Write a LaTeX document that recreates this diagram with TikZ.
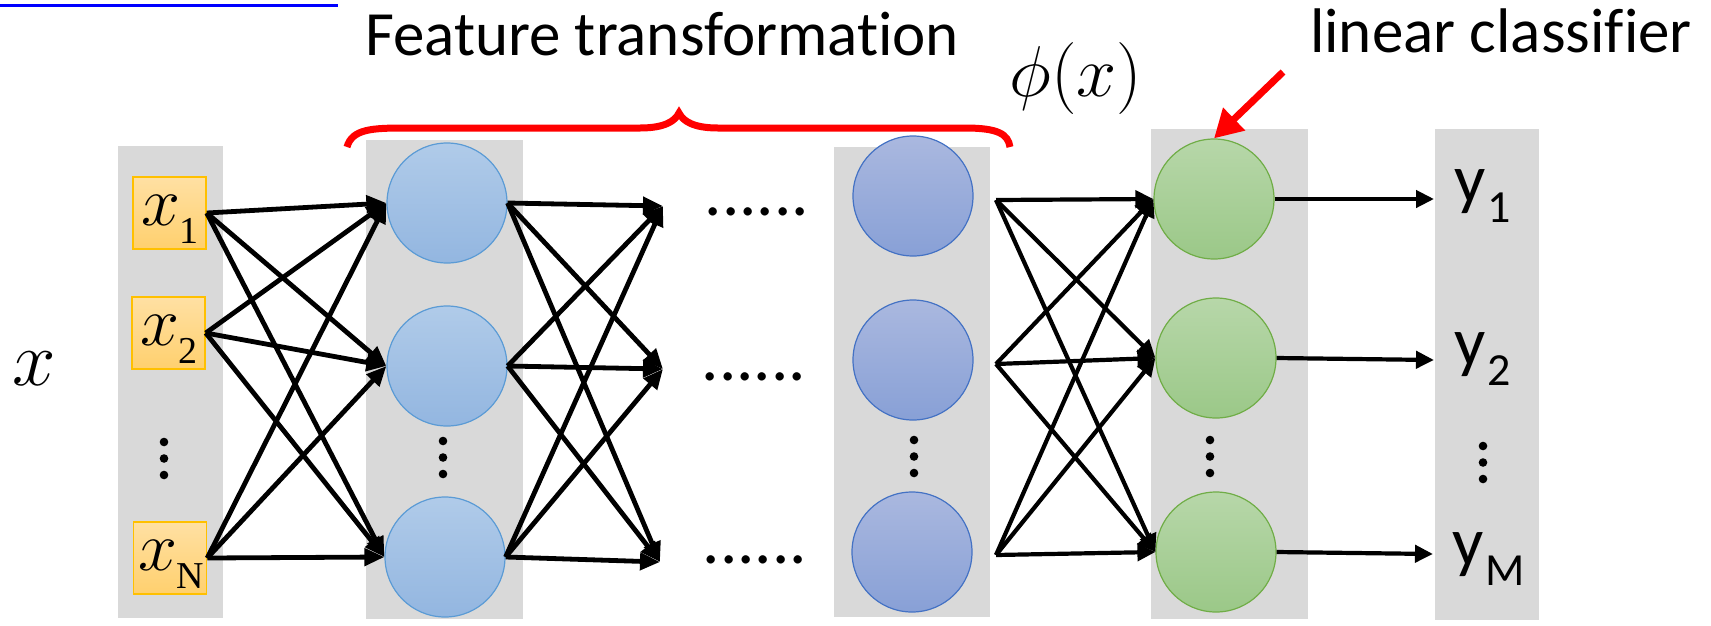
\documentclass[tikz,border=0pt]{standalone}
\usepackage{fix-cm}
\usepackage{fontspec}
\newfontfamily\calfont[Ligatures=NoCommon]{Carlito}
\newfontfamily\tmsfont{Liberation Serif}
\usetikzlibrary{arrows.meta,calc}
\definecolor{gry}{HTML}{D9D9D9}
\definecolor{hat}{HTML}{B0CBE9}
\definecolor{hab}{HTML}{93B6E0}
\definecolor{had}{HTML}{5B9BD5}
\definecolor{hbt}{HTML}{AAB8DF}
\definecolor{hbb}{HTML}{88A0D6}
\definecolor{hbd}{HTML}{4472C4}
\definecolor{grt}{HTML}{B7D7A9}
\definecolor{grb}{HTML}{9BC888}
\definecolor{grd}{HTML}{70AD47}
\definecolor{bxt}{HTML}{FFE0A3}
\definecolor{bxb}{HTML}{FFD06E}
\definecolor{bxd}{HTML}{FFC000}
\definecolor{lnk}{HTML}{0000FF}
\newcommand\xlab[1]{{\fontsize{70}{70}\selectfont$x$}\kern-1pt\raisebox{-18pt}{\tmsfont\fontsize{38}{38}\selectfont #1}}
\newcommand\ylab[1]{{\calfont\fontsize{69}{69}\selectfont y\kern2pt\raisebox{-20pt}{\fontsize{46}{46}\selectfont #1}}}
\begin{document}
\begin{tikzpicture}[x=1pt,y=-1pt,
  col/.style={fill=gry},
  inbox/.style={rectangle, minimum width=73pt, minimum height=72pt, inner sep=0pt, line width=1.5pt, draw=bxd, top color=bxt, bottom color=bxb},
  hla/.style={circle, minimum size=120pt, inner sep=0pt, line width=1.2pt, draw=had, top color=hat, bottom color=hab},
  hlb/.style={circle, minimum size=120pt, inner sep=0pt, line width=1.2pt, draw=hbd, top color=hbt, bottom color=hbb},
  grn/.style={circle, minimum size=120pt, inner sep=0pt, line width=1.2pt, draw=grd, top color=grt, bottom color=grb},
  conn/.style={line width=4.8pt, -{Triangle[length=20pt,width=17pt]}},
  connb/.style={line width=4.2pt, -{Triangle[length=18pt,width=17pt]}},
  vdot/.style={fill=black},
  dotrow/.style={anchor=base, inner sep=0pt, font=\calfont\fontsize{69}{69}\selectfont},
]
\useasboundingbox (0,0) rectangle (1711,625);

% hyperlink underline
\draw[lnk, line width=3pt] (0,5) -- (338,5);

% gray columns
\path[col] (118,146) rectangle (223,618);
\path[col] (366,140) rectangle (523,619);
\path[col] (834,147) rectangle (990,617);
\path[col] (1151,129) rectangle (1308,619);
\path[col] (1435,129) rectangle (1539,620);

% input boxes
\node[inbox] (x1) at (169.5,213) {};
\node[inbox] (x2) at (168.5,333) {};
\node[inbox] (xN) at (170,558) {};
\node[anchor=base, inner sep=0pt] (x1t) at (170,225) {\xlab{1}};
\node[anchor=base, inner sep=0pt] (x2t) at (169,345) {\xlab{2}};
\node[anchor=base, inner sep=0pt] (xNt) at (171,570) {\xlab{N}};

% first hidden layer
\node[hla] (h1) at (447,203) {};
\node[hla] (h2) at (447,366) {};
\node[hla] (h3) at (445,557) {};

% last hidden layer
\node[hlb] (k1) at (913,196) {};
\node[hlb] (k2) at (913,360) {};
\node[hlb] (k3) at (912,552) {};

% linear classifier
\node[grn] (g1) at (1214,199) {};
\node[grn] (g2) at (1216,358) {};
\node[grn] (g3) at (1216,552) {};

% output labels
\node[anchor=base west, inner sep=0pt] (y1) at (1454,202) {\ylab{1}};
\node[anchor=base west, inner sep=0pt] (y2) at (1454,365) {\ylab{2}};
\node[anchor=base west, inner sep=0pt] (yM) at (1452,565) {\ylab{M}};

% vertical dots
\foreach \cx/\cy in {164/442,443/441,914/440,1210/440,1483/446}{
  \fill[vdot] (\cx,\cy) circle (4.3pt) (\cx,\cy+16.5) circle (4.3pt) (\cx,\cy+33) circle (4.3pt);
}

% horizontal dots
\node[dotrow] (d1) at (757,215) {......};
\node[dotrow] (d2) at (754,380) {......};
\node[dotrow] (d3) at (755,563) {......};

% free connector ends
\coordinate (t1) at (663,206);
\coordinate (t2) at (663,369);
\coordinate (t3) at (660,562);
\coordinate (s1) at (996,200);
\coordinate (s2) at (996,364);
\coordinate (s3) at (996,555);
\coordinate (o1) at (1434,199);
\coordinate (o2) at (1434,360);
\coordinate (o3) at (1433,554);

% connectors
\foreach \s in {x1,x2,xN}{\foreach \t in {h1,h2,h3}{\draw[conn] (\s.east) -- (\t.west);}}
\foreach \s in {h1,h2,h3}{\foreach \t in {t1,t2,t3}{\draw[conn] (\s.east) -- (\t);}}
\foreach \s in {s1,s2,s3}{\foreach \t in {g1,g2,g3}{\draw[connb] (\s) -- (\t.west);}}
\draw[connb] (g1.east) -- (o1);
\draw[connb] (g2.east) -- (o2);
\draw[connb] (g3.east) -- (o3);

% x label
\node[anchor=base, inner sep=0pt] (xlab) at (34,385) {\fontsize{78}{78}\selectfont $x$};

% brace
\draw[red, line width=7pt] (347,147) .. controls (352,129) and (372,128) .. (405,128) -- (640,128) .. controls (665,128) and (675,121) .. (679,113) .. controls (683,121) and (693,128) .. (718,128) -- (965,128) .. controls (998,128) and (1008,134) .. (1010,147);

% titles
\node[anchor=base, inner sep=0pt, font=\calfont\fontsize{63}{63}\selectfont] (ft) at (662,55) {Feature transformation};
\node[anchor=base, inner sep=0pt, font=\calfont\fontsize{63}{63}\selectfont] (lc) at (1501,52) {linear classifier};
\node[anchor=base, inner sep=0pt] (phi) at (1076,96) {\fontsize{72}{72}\selectfont $\phi(x)$};

% red arrow
\coordinate (rt) at (1283,72);
\draw[red, line width=7pt, -{Triangle[length=28pt,width=30pt]}] (rt) -- (g1.north);
\end{tikzpicture}
\end{document}
